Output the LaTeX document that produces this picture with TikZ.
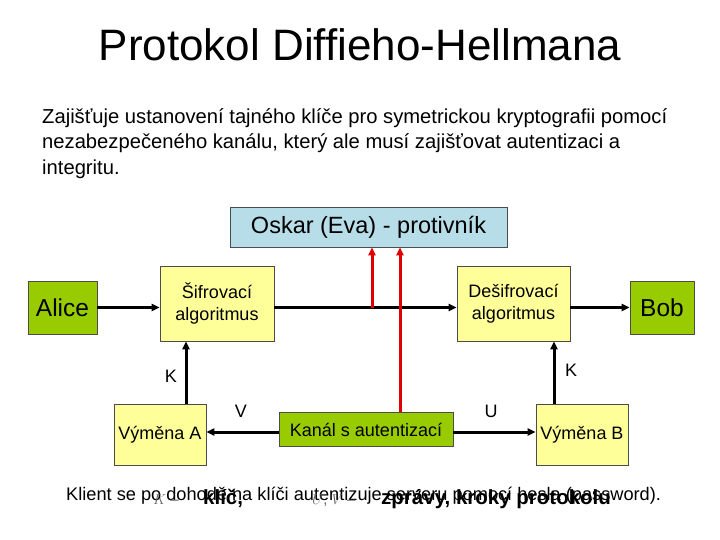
\documentclass[tikz,border=0pt]{standalone}
\usepackage{fontspec}
\setmainfont{Liberation Sans}
\usetikzlibrary{arrows.meta,calc}
\definecolor{boxgreen}{HTML}{99CC00}
\definecolor{boxyellow}{HTML}{FFFF99}
\definecolor{boxblue}{HTML}{B7DDE8}
\definecolor{arrred}{HTML}{E00000}
\tikzset{
  box/.style={draw=black!70, line width=0.6pt, inner sep=0pt, align=center},
  gbox/.style={box, fill=boxgreen, font=\fontsize{24.5}{28}\selectfont},
  ybox/.style={box, fill=boxyellow, font=\fontsize{18}{22}\selectfont},
  bbox/.style={box, fill=boxblue, font=\fontsize{23.5}{27}\selectfont},
  conn/.style={line width=3pt, -{Triangle[length=8pt,width=7pt]}},
  redconn/.style={line width=3pt, draw=arrred, -{Triangle[length=8pt,width=7pt]}},
  lbl/.style={font=\fontsize{18}{21}\selectfont, inner sep=0pt},
}
\begin{document}
\begin{tikzpicture}[x=1pt,y=-1pt]
\useasboundingbox (0,0) rectangle (720,540);
% title and description
\node (title) at (360,45) {\fontsize{44}{50}\selectfont Protokol Diffieho-Hellmana};
\node[anchor=north west, inner sep=0pt, align=left, font=\fontsize{20.2}{25.5}\selectfont] (desc) at (42,108)
  {Zajišťuje ustanovení tajného klíče pro symetrickou kryptografii pomocí\\
   nezabezpečeného kanálu, který ale musí zajišťovat autentizaci a\\
   integritu.};
% nodes
\node[bbox, minimum width=277pt, minimum height=40pt] (oskar) at (368.5,227) {Oskar (Eva) - protivník};
\node[gbox, minimum width=69pt, minimum height=53pt] (alice) at (62.5,307.5) {Alice};
\node[ybox, minimum width=114pt, minimum height=75pt] (sifr) at (217,303.5) {Šifrovací\\algoritmus};
\node[ybox, minimum width=113pt, minimum height=75pt] (desifr) at (513.5,303.5) {Dešifrovací\\algoritmus};
\node[gbox, minimum width=64pt, minimum height=53pt] (bob) at (662,307.5) {Bob};
\node[ybox, minimum width=92pt, minimum height=61pt] (va) at (160,434.5) {Výměna A};
\node[gbox, minimum width=174pt, minimum height=34pt, font=\fontsize{18}{22}\selectfont] (kanal) at (366,429.5) {Kanál s autentizací};
\node[ybox, minimum width=92pt, minimum height=61pt] (vb) at (582,434.5) {Výměna B};
\coordinate (tap) at (372,307.5);
% connectors
\draw[conn] (alice.east) -- (alice.east -| sifr.west);
\draw[conn] (sifr.east |- tap) -- (desifr.west |- tap);
\draw[conn] (desifr.east |- bob.west) -- (bob.west);
\draw[redconn] (tap) -- (tap |- oskar.south);
\draw[redconn] ([xshift=34pt]kanal.north) -- ([xshift=34pt]kanal.north |- oskar.south);
\draw[conn] ([xshift=26pt]va.north) -- ([xshift=26pt]va.north |- sifr.south);
\draw[conn] ([xshift=-28pt]vb.north) -- ([xshift=-28pt]vb.north |- desifr.south);
\draw[conn] ([yshift=-2.5pt]kanal.west) -- ([yshift=-2.5pt]kanal.west -| va.east);
\draw[conn] ([yshift=-2.5pt]kanal.east) -- ([yshift=-2.5pt]kanal.east -| vb.west);
% labels
\node[lbl] (k1) at (171,376) {K};
\node[lbl] (k2) at (571,370) {K};
\node[lbl] (v) at (241,411) {V};
\node[lbl] (u) at (491,411) {U};
% bottom overlapping texts
\node[anchor=base west, inner sep=0pt, font=\fontsize{18.2}{20}\selectfont] (note) at (66,500)
  {Klient se po dohodě na klíči autentizuje serveru pomocí hesla (password).};
\node[anchor=base west, inner sep=0pt, text=black!60, font=\fontsize{15}{18}\selectfont\rmfamily] (kk) at (153,504) {$K$ –};
\node[anchor=base west, inner sep=0pt, font=\fontsize{20.5}{22}\selectfont\bfseries] (klic) at (203,504) {klíč,};
\node[anchor=base west, inner sep=0pt, text=black!60, font=\fontsize{15}{18}\selectfont\rmfamily] (uv) at (312,504) {$U$, $V$ –};
\node[anchor=base west, inner sep=0pt, font=\fontsize{20.5}{22}\selectfont\bfseries] (zpravy) at (381,504) {zprávy, kroky protokolu};
\end{tikzpicture}
\end{document}
